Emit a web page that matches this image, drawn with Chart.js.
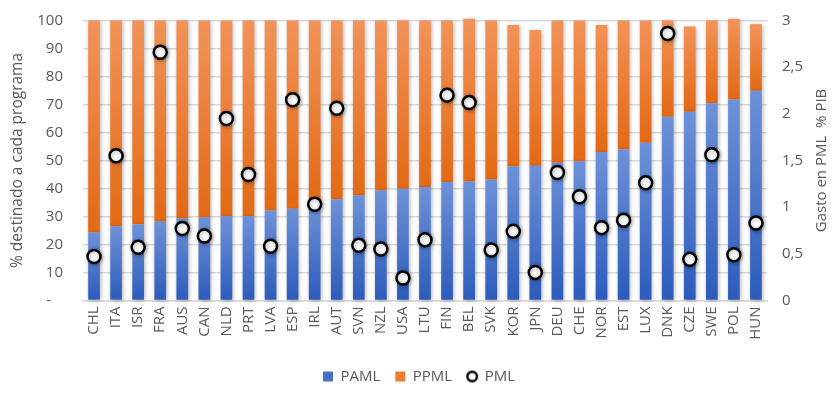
<!DOCTYPE html>
<html>
<head>
<meta charset="utf-8">
<script src="https://cdn.jsdelivr.net/npm/chart.js@4"></script>
<style>
  html, body { margin: 0; padding: 0; background: #fff; }
  #wrap { width: 838px; height: 394px; position: relative; }
</style>
</head>
<body>
<div id="wrap"><canvas id="c" width="838" height="394"></canvas></div>
<script>
const countries = ["CHL","ITA","ISR","FRA","AUS","CAN","NLD","PRT","LVA","ESP","IRL","AUT","SVN","NZL","USA","LTU","FIN","BEL","SVK","KOR","JPN","DEU","CHE","NOR","EST","LUX","DNK","CZE","SWE","POL","HUN"];
const paml = [24.3,26.5,27.2,28.2,29.3,29.6,30.1,30.1,32.1,32.7,35.0,36.1,37.5,39.3,39.9,40.5,42.3,42.5,43.2,47.8,48.1,49.2,49.7,53.0,54.0,56.3,65.6,67.4,70.4,71.8,74.9];
const ppml = [75.7,73.5,72.8,71.8,70.7,70.4,69.9,69.9,67.9,67.3,65.0,63.9,62.5,60.7,60.1,59.5,57.7,58.1,56.8,50.6,48.5,50.8,50.3,45.4,46.0,43.7,34.4,30.5,29.6,28.8,23.8];
const pml = [0.47,1.55,0.57,2.66,0.77,0.69,1.95,1.35,0.58,2.15,1.03,2.06,0.59,0.55,0.24,0.65,2.20,2.12,0.54,0.74,0.30,1.37,1.11,0.78,0.86,1.26,2.86,0.44,1.56,0.49,0.83];
const leftTicks = [0,10,20,30,40,50,60,70,80,90,100];
const rightTicks = [0,0.5,1,1.5,2,2.5,3];

const TXT = '#595959';
const FONT = '"Open Sans", "Liberation Sans", sans-serif';

function segGrad(context, light, dark, baseArr, valArr) {
  const chart = context.chart;
  const ys = chart.scales && chart.scales.y;
  if (!ys || context.type !== 'data') return dark;
  const i = context.dataIndex;
  const base = baseArr ? baseArr[i] : 0;
  const top = base + valArr[i];
  const yTop = ys.getPixelForValue(top), yBot = ys.getPixelForValue(base);
  if (!isFinite(yTop) || !isFinite(yBot) || yTop === yBot) return dark;
  const g = chart.ctx.createLinearGradient(0, yTop, 0, yBot);
  g.addColorStop(0, light);
  g.addColorStop(1, dark);
  return g;
}

const shadowPlugin = {
  id: 'shadow',
  beforeDatasetDraw(chart) {
    const c = chart.ctx;
    c.save();
    c.shadowColor = 'rgba(0,0,0,0.30)';
    c.shadowBlur = 4;
    c.shadowOffsetX = 1;
    c.shadowOffsetY = 1;
  },
  afterDatasetDraw(chart) { chart.ctx.restore(); }
};

const rightTitlePlugin = {
  id: 'rightTitle',
  afterDraw(chart) {
    const c = chart.ctx, a = chart.chartArea;
    c.save();
    c.translate(822, (a.top + a.bottom) / 2);
    c.rotate(-Math.PI / 2);
    c.textAlign = 'center';
    c.textBaseline = 'middle';
    c.font = '15px ' + FONT;
    c.fillStyle = TXT;
    c.fillText('Gasto en PML  % PIB', 0, 0);
    c.restore();
  }
};

// small legend marker for PML (white circle, black ring)
const ringIcon = document.createElement('canvas');
ringIcon.width = 14; ringIcon.height = 14;
(function () {
  const g = ringIcon.getContext('2d');
  g.beginPath(); g.arc(7, 7, 4.8, 0, Math.PI * 2);
  g.fillStyle = '#fff'; g.fill();
  g.lineWidth = 2.4; g.strokeStyle = '#000'; g.stroke();
})();

const legendStyle = {
  PAML: { fillStyle: '#4472C4', strokeStyle: '#4472C4', pointStyle: 'rect', lineWidth: 0 },
  PPML: { fillStyle: '#ED7D31', strokeStyle: '#ED7D31', pointStyle: 'rect', lineWidth: 0 },
  PML:  { fillStyle: '#ffffff', strokeStyle: '#000000', pointStyle: ringIcon, lineWidth: 0 }
};

new Chart(document.getElementById('c'), {
  data: {
    labels: countries,
    datasets: [
      {
        type: 'bar', label: 'PAML', data: paml, yAxisID: 'y', order: 1, stack: 's',
        backgroundColor: ctx => segGrad(ctx, '#6E92D8', '#2C5BBB', null, paml),
        barPercentage: 0.53, categoryPercentage: 1, clip: false
      },
      {
        type: 'bar', label: 'PPML', data: ppml, yAxisID: 'y', order: 1, stack: 's',
        backgroundColor: ctx => segGrad(ctx, '#F29359', '#E36914', paml, ppml),
        barPercentage: 0.53, categoryPercentage: 1, clip: false
      },
      {
        type: 'line', label: 'PML', data: pml, yAxisID: 'y2', order: 0,
        showLine: false, pointRadius: 6.5, pointHoverRadius: 6.5,
        pointBackgroundColor: '#ffffff', pointBorderColor: '#000000', pointBorderWidth: 2.5,
        backgroundColor: '#ffffff', borderColor: '#000000', clip: false
      }
    ]
  },
  options: {
    responsive: false,
    animation: false,
    events: [],
    layout: { padding: { top: 20.5, left: 0, right: 0, bottom: 0 } },
    plugins: {
      tooltip: { enabled: false },
      legend: {
        position: 'bottom',
        labels: {
          usePointStyle: true,
          boxWidth: 10, boxHeight: 10,
          padding: 15,
          color: TXT,
          font: { family: FONT, size: 15 },
          generateLabels(chart) {
            const items = Chart.defaults.plugins.legend.labels.generateLabels(chart);
            items.sort((a, b) => a.datasetIndex - b.datasetIndex);
            items.forEach(it => Object.assign(it, legendStyle[it.text]));
            return items;
          }
        }
      }
    },
    scales: {
      x: {
        stacked: true,
        grid: { display: false, drawTicks: false },
        border: { display: true, color: '#D9D9D9', width: 1.5 },
        ticks: {
          color: TXT, font: { family: FONT, size: 15 },
          minRotation: 90, maxRotation: 90, autoSkip: false, padding: 6
        },
        afterFit(s) { s.height = 53.6; s.paddingLeft = 0; s.paddingRight = 0; }
      },
      y: {
        stacked: true, position: 'left', min: 0, max: 100,
        afterBuildTicks(s) { s.ticks = leftTicks.map(v => ({ value: v })); },
        grid: { color: '#D9D9D9', lineWidth: 1.5, drawTicks: false },
        border: { display: false },
        ticks: {
          color: TXT, font: { family: FONT, size: 15 }, padding: 20,
          callback: v => v === 0 ? '-   ' : String(v)
        },
        title: {
          display: true, text: '% destinado a cada programa',
          color: TXT, font: { family: FONT, size: 15.5 }, padding: { top: 8, bottom: 0 }
        },
        afterFit(s) { s.width = 83; s.paddingTop = 0; s.paddingBottom = 0; }
      },
      y2: {
        position: 'right', min: 0, max: 3,
        afterBuildTicks(s) { s.ticks = rightTicks.map(v => ({ value: v })); },
        grid: { display: false, drawTicks: false },
        border: { display: false },
        ticks: {
          color: TXT, font: { family: FONT, size: 15 }, padding: 15,
          callback: v => String(v).replace('.', ',')
        },
        afterFit(s) { s.width = 71; s.paddingTop = 0; s.paddingBottom = 0; }
      }
    }
  },
  plugins: [shadowPlugin, rightTitlePlugin]
});
</script>
</body>
</html>
